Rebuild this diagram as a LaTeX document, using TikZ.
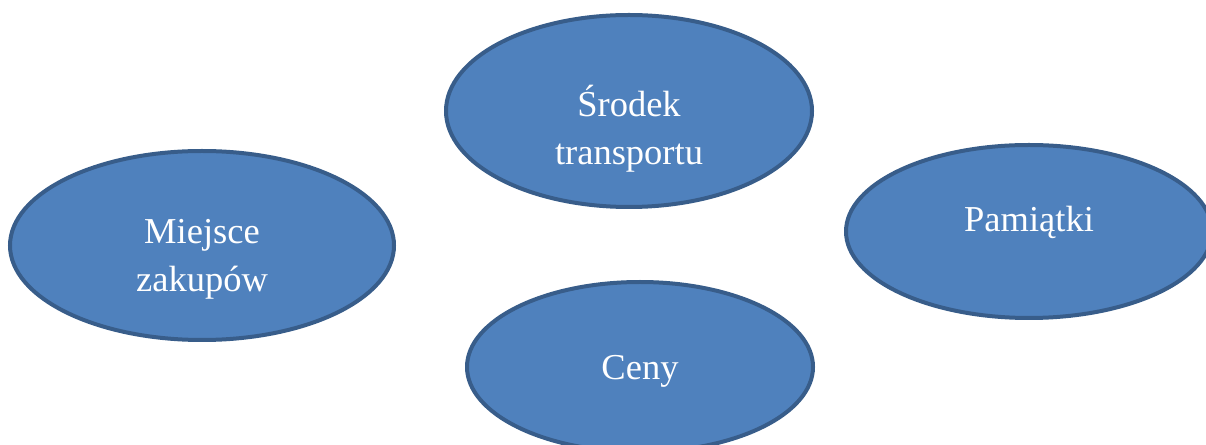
\documentclass[tikz,border=0pt]{standalone}
\usepackage{fontspec}
\setmainfont{Liberation Serif}
\usetikzlibrary{shapes.geometric, positioning}
\definecolor{bubblefill}{HTML}{4F81BD}
\definecolor{bubbleline}{HTML}{385D8A}
\tikzstyle{bubble} = [ellipse, inner sep=0pt, draw=bubbleline, line width=4pt, fill=bubblefill]
\tikzstyle{bubbletext} = [text=white, font=\fontsize{36.5}{48.5}\selectfont, align=center, inner sep=0pt, anchor=base]

\begin{document}
\begin{tikzpicture}[x=1pt, y=1pt]
				\useasboundingbox (0,0) rectangle (1206,444);
				\clip (0,0) rectangle (1206,444);
				\node (srodek) [bubble, minimum width=366pt, minimum height=192pt] at (629,333) {};
				\node (miejsce) [bubble, minimum width=384pt, minimum height=189pt] at (202,198.5) {};
				\node (pamiatki) [bubble, minimum width=366pt, minimum height=173pt] at (1029,212.5) {};
				\node (ceny) [bubble, minimum width=346pt, minimum height=170pt] at (640,77) {};
				\node (srodektext) [bubbletext] at (629,279) {Środek\\transportu};
				\node (miejscetext) [bubbletext] at (202,152) {Miejsce\\zakupów};
				\node (pamiatkitext) [bubbletext] at (1029,212) {Pamiątki};
				\node (cenytext) [bubbletext] at (640,64) {Ceny};
			\end{tikzpicture}
\end{document}
